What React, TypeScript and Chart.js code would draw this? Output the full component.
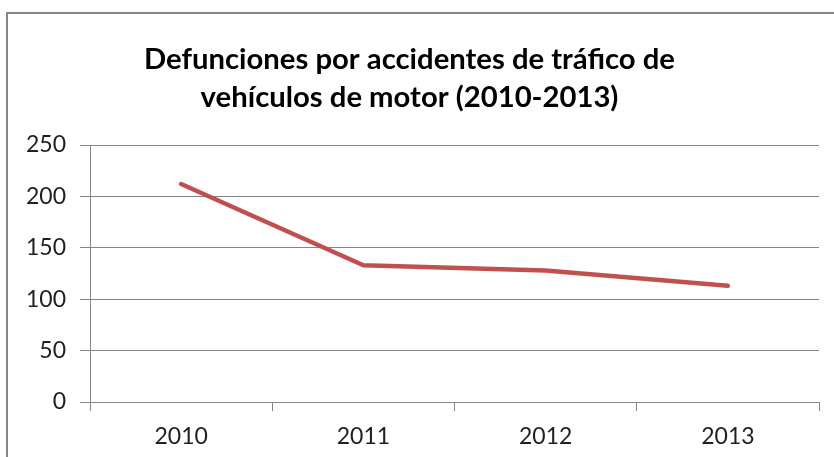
import React, { useEffect, useRef } from "react";
import { Chart, registerables } from "chart.js";

Chart.register(...registerables);

const years: string[] = ["2010", "2011", "2012", "2013"];
const deaths: number[] = [212, 133, 128, 113];
const titleLines: string[] = [
  "Defunciones por accidentes de tráfico de",
  "vehículos de motor (2010-2013)",
];

const FONT = "Lato, 'Open Sans', sans-serif";

function fitTitleSize(text: string, target: number): number {
  const c = document.createElement("canvas").getContext("2d");
  if (!c) return 24;
  c.font = `bold 100px ${FONT}`;
  const w = c.measureText(text).width;
  return (100 * target) / w;
}

export default function App() {
  const ref = useRef<HTMLCanvasElement | null>(null);

  useEffect(() => {
    if (!ref.current) return;
    const titleSize = fitTitleSize(titleLines[0], 531);
    const chart = new Chart(ref.current, {
      type: "line",
      data: {
        labels: years,
        datasets: [
          {
            data: deaths,
            borderColor: "#C0504D",
            backgroundColor: "#C0504D",
            borderWidth: 4.5,
            pointRadius: 0,
            pointHoverRadius: 0,
            tension: 0,
            borderJoinStyle: "round",
            borderCapStyle: "round",
          },
        ],
      },
      options: {
        animation: false,
        responsive: false,
        maintainAspectRatio: false,
        layout: { padding: { left: 0, right: 15, top: 0, bottom: 0 } },
        plugins: {
          legend: { display: false },
          tooltip: { enabled: false },
          title: {
            display: true,
            text: titleLines,
            color: "#000000",
            font: { family: FONT, size: titleSize, weight: "bold", lineHeight: "38px" },
            padding: { top: 41, bottom: 28 },
          },
        },
        scales: {
          x: {
            type: "category",
            offset: true,
            grid: {
              display: true,
              offset: true,
              drawOnChartArea: false,
              drawTicks: true,
              tickLength: 9,
              color: "#868686",
              lineWidth: 1,
            },
            border: { display: true, color: "#868686", width: 1 },
            ticks: {
              color: "#1f1f1f",
              font: { family: FONT, size: 23 },
              padding: 12,
              maxRotation: 0,
            },
            afterFit: (scale: any) => {
              scale.height = 55;
            },
          },
          y: {
            min: 0,
            max: 250,
            ticks: {
              stepSize: 50,
              color: "#1f1f1f",
              font: { family: FONT, size: 23 },
              padding: 14,
            },
            grid: {
              color: "#868686",
              lineWidth: 1,
              drawTicks: true,
              tickLength: 10,
            },
            border: { display: true, color: "#868686", width: 1 },
            afterFit: (scale: any) => {
              scale.width = 90;
            },
          },
        },
      },
    });
    return () => chart.destroy();
  }, []);

  return (
    <div
      style={{
        position: "fixed",
        left: 0,
        top: 0,
        width: 834,
        height: 457,
        overflow: "hidden",
        background: "#ffffff",
      }}
    >
      <div
        style={{
          position: "absolute",
          left: 6,
          top: 12,
          width: 900,
          height: 600,
          border: "2px solid #868686",
          boxSizing: "border-box",
        }}
      />
      <canvas
        ref={ref}
        width={834}
        height={457}
        style={{ position: "absolute", left: 0, top: 0, width: 834, height: 457 }}
      />
    </div>
  );
}
